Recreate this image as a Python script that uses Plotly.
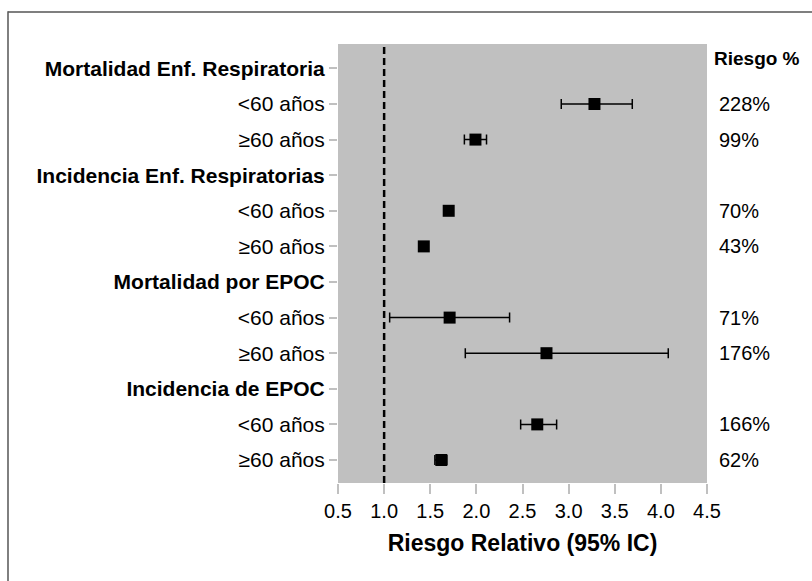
import plotly.graph_objects as go

labels = ["<b>Mortalidad Enf. Respiratoria</b>", "<60 años", "≥60 años",
          "<b>Incidencia Enf. Respiratorias</b>", "<60 años", "≥60 años",
          "<b>Mortalidad por EPOC</b>", "<60 años", "≥60 años",
          "<b>Incidencia de EPOC</b>", "<60 años", "≥60 años"]
rr = [None, 3.28, 1.99, None, 1.70, 1.43, None, 1.71, 2.76, None, 2.66, 1.62]
ci_low = [None, 2.92, 1.87, None, 1.67, 1.40, None, 1.06, 1.88, None, 2.48, 1.55]
ci_high = [None, 3.69, 2.11, None, 1.73, 1.46, None, 2.36, 4.08, None, 2.87, 1.68]
risk_pct = [None, "228%", "99%", None, "70%", "43%", None, "71%", "176%", None, "166%", "62%"]
x_ticks = [0.5, 1.0, 1.5, 2.0, 2.5, 3.0, 3.5, 4.0, 4.5]

rows = list(range(len(labels)))
plus = [None if v is None else h - v for v, h in zip(rr, ci_high)]
minus = [None if v is None else v - l for v, l in zip(rr, ci_low)]

FONT = "Liberation Sans, Arial, sans-serif"

fig = go.Figure()
fig.add_trace(go.Scatter(
    x=rr, y=rows, mode="markers",
    marker=dict(symbol="square", size=12, color="black"),
    error_x=dict(type="data", array=plus, arrayminus=minus, symmetric=False,
                 color="black", thickness=1.5, width=5),
    showlegend=False, hoverinfo="skip",
))

fig.add_shape(type="line", xref="x", yref="paper", x0=1.0, x1=1.0, y0=0, y1=1,
              line=dict(color="black", width=2.5, dash="7px,4px"))
# outer frame: thin filled bars for the top and left edges
fig.add_shape(type="rect", xref="paper", yref="paper",
              x0=-0.894, x1=1.2846, y0=1.07118, y1=1.07460,
              fillcolor="#555555", line=dict(width=0))
fig.add_shape(type="rect", xref="paper", yref="paper",
              x0=-0.89634, x1=-0.89228, y0=-0.2232, y1=1.0746,
              fillcolor="#555555", line=dict(width=0))

for r, t in zip(rows, risk_pct):
    if t is not None:
        fig.add_annotation(xref="paper", yref="y", x=1.027, y=r, text=t,
                           xanchor="left", yanchor="middle", showarrow=False,
                           font=dict(family=FONT, size=20, color="black"))
fig.add_annotation(xref="paper", yref="y", x=1.0125, y=-0.27, text="<b>Riesgo %</b>",
                   xanchor="left", yanchor="middle", showarrow=False,
                   font=dict(family=FONT, size=19, color="black"))

fig.update_layout(
    width=812, height=581,
    margin=dict(l=338, r=105, t=44, b=98),
    paper_bgcolor="white", plot_bgcolor="#c0c0c0",
    font=dict(family=FONT, color="black"),
    xaxis=dict(range=[0.5, 4.5], tickvals=x_ticks, tickformat=".1f",
               ticks="outside", ticklen=10, tickwidth=2, tickcolor="#c0c0c0",
               showgrid=False, zeroline=False, showline=False,
               tickfont=dict(size=20, family=FONT, color="black"),
               title=dict(text="<b>Riesgo Relativo (95% IC)</b>", standoff=13,
                          font=dict(size=23, family=FONT, color="black"))),
    yaxis=dict(range=[11.646, -0.685], tickvals=rows, ticktext=labels,
               ticks="outside", ticklen=8, tickwidth=1.5, tickcolor="#c0c0c0",
               showgrid=False, zeroline=False, showline=False,
               tickfont=dict(size=21, family=FONT, color="black")),
)

fig.write_html("out.html")
